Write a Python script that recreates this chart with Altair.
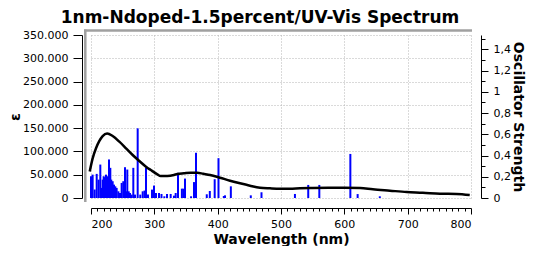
import altair as alt
import pandas as pd

# ---- stick spectrum (oscillator strength) ----
bar_wl = [200.0, 202.6, 205.8, 209.0, 212.0, 214.7, 216.8, 218.4, 220.0, 221.6,
          223.7, 225.8, 228.4, 230.5, 232.0, 234.2, 236.3, 238.4, 240.5, 243.2,
          245.8, 248.4, 251.0, 253.7, 255.3, 257.3, 259.5, 261.6, 264.2, 266.8,
          269.5, 273.7, 277.8, 281.6, 284.5, 286.8, 290.0, 296.3, 299.5, 302.6,
          307.4, 311.3, 315.8, 320.0, 325.8, 331.0, 333.7, 337.4, 343.5, 346.0,
          348.4, 358.0, 362.6, 365.8, 382.8, 387.6, 395.3, 401.3, 409.7, 411.6,
          420.8, 452.3, 469.2, 522.0, 543.0, 560.5, 609.5, 621.0, 656.0]
bar_f = [0.205, 0.22, 0.08, 0.227, 0.173, 0.315, 0.095, 0.173, 0.205, 0.196,
         0.22, 0.205, 0.363, 0.284, 0.173, 0.158, 0.126, 0.11, 0.095, 0.063,
         0.047, 0.142, 0.158, 0.29, 0.063, 0.268, 0.063, 0.047, 0.032, 0.284,
         0.032, 0.656, 0.032, 0.063, 0.07, 0.284, 0.032, 0.079, 0.117, 0.047,
         0.047, 0.038, 0.016, 0.038, 0.038, 0.022, 0.047, 0.237, 0.088, 0.088,
         0.183, 0.016, 0.15, 0.426, 0.035, 0.066, 0.177, 0.375, 0.019, 0.025,
         0.11, 0.025, 0.054, 0.038, 0.123, 0.123, 0.415, 0.037, 0.016]

# ---- broadened spectrum (epsilon) ----
curve_wl = [198, 202.6, 207.9, 213, 218.4, 225.5, 234.2, 244.7, 255.3, 265.8,
            276.3, 286.8, 294.3, 304.7, 310, 320.5, 331, 336.3, 346.8, 357.4,
            367.8, 377.3, 388, 403.7, 419.5, 435.3, 451, 466.9, 482.6, 498.4,
            514, 530, 550, 575, 600, 625, 645, 672, 698.5, 724, 751, 777, 798]
curve_eps = [57000, 85000, 106700, 122000, 133000, 138500, 133000, 121000, 106700, 92300,
             79400, 67200, 60100, 50900, 47200, 47200, 49400, 51500, 53000, 54300,
             54300, 52000, 49400, 43600, 37200, 31500, 26400, 22100, 20800, 20000,
             20000, 21000, 21500, 21800, 22000, 21500, 18600, 15700, 12900, 11400,
             9200, 8600, 6400]

x_ticks = list(range(200, 801, 10))
eps_ticks = list(range(0, 350001, 50000))
f_ticks = [round(i * 0.1, 1) for i in range(16)]

bars_df = pd.DataFrame({"wl": bar_wl, "f": bar_f})
curve_df = pd.DataFrame({"wl": curve_wl, "eps": curve_eps})

x_axis = alt.Axis(
    title="Wavelength (nm)",
    values=x_ticks,
    labelExpr="datum.value % 100 === 0 ? format(datum.value, 'd') : ''",
    tickSize={"condition": {"test": "datum.value % 100 === 0", "value": 6}, "value": 3},
    grid=True,
    gridOpacity={"condition": {"test": "datum.value % 100 === 0", "value": 1}, "value": 0},
    offset=10,
    labelOverlap=False,
    labelPadding=4,
    titlePadding=3,
)
x_enc = alt.X("wl:Q", scale=alt.Scale(domain=[200, 800], nice=False, zero=False, padding=0), axis=x_axis)

bars = alt.Chart(bars_df).mark_bar(color="#0000ff", size=2).encode(
    x=x_enc,
    y=alt.Y(
        "f:Q",
        scale=alt.Scale(domain=[0, 1.535], nice=False, padding=0),
        axis=alt.Axis(
            orient="right",
            title="Oscillator Strength",
            values=f_ticks,
            labelExpr="round(datum.value*10) % 2 === 0 ? replace(format(datum.value, '.1~f'), '.', ',') : ''",
            tickSize={"condition": {"test": "round(datum.value*10) % 2 === 0", "value": 7}, "value": 4},
            grid=False,
            offset=10,
            labelPadding=5,
            titlePadding=0,
            labelOverlap=False,
        ),
    ),
)

line = alt.Chart(curve_df).mark_line(color="black", strokeWidth=2.5, interpolate="monotone").encode(
    x=x_enc,
    y=alt.Y(
        "eps:Q",
        scale=alt.Scale(domain=[0, 350000], nice=False),
        axis=alt.Axis(
            orient="left",
            title="ε",
            values=eps_ticks,
            labelExpr="replace(format(datum.value, ','), ',', '.')",
            grid=True,
            offset=9,
            tickSize=9,
            labelPadding=5,
            titlePadding=0,
        ),
    ),
)

one = pd.DataFrame({"k": [0]})
frame_top = alt.Chart(one).mark_rule(color="#a0a0a0", strokeWidth=2.5).encode(
    x=alt.value(-7), x2=alt.value(381), y=alt.value(-4.5)
)
frame_left = alt.Chart(one).mark_rule(color="#a0a0a0", strokeWidth=2.5).encode(
    x=alt.value(-5.7), y=alt.value(-5.5), y2=alt.value(167)
)

chart = (
    alt.layer(bars, line, frame_top, frame_left)
    .resolve_scale(y="independent")
    .properties(
        width=380,
        height=163,
        autosize=alt.AutoSizeParams(type="none"),
        padding={"left": 83, "top": 27, "right": 55, "bottom": 48},
        title=alt.TitleParams(
            "1nm-Ndoped-1.5percent/UV-Vis Spectrum",
            font="DejaVu Sans",
            fontSize=17,
            fontWeight="bold",
            color="black",
            anchor="middle",
            frame="group",
            offset=1,
            dx=-21,
        ),
    )
    .configure_view(stroke=None)
    .configure_axis(
        labelFont="DejaVu Sans",
        labelFontSize=11,
        labelColor="black",
        titleFont="DejaVu Sans",
        titleFontSize=14,
        titleFontWeight="bold",
        titleColor="black",
        domainColor="black",
        tickColor="black",
        gridColor="#b4b4b4",
        gridDash=[1, 2],
    )
)

chart.save("out.html", embed_options={"renderer": "svg", "actions": False})
